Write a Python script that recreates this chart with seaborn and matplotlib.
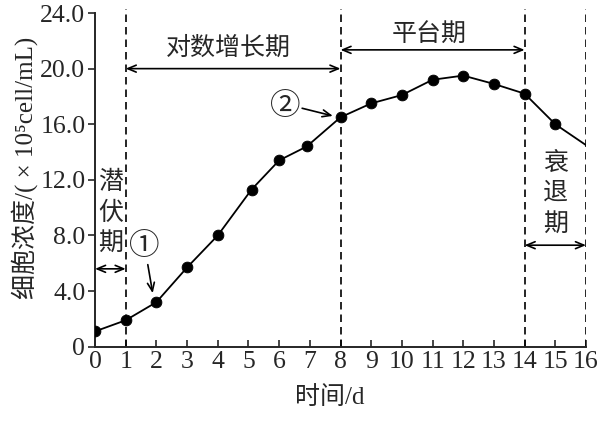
import numpy as np
import pandas as pd
import matplotlib
matplotlib.use("Agg")
import matplotlib.pyplot as plt
import seaborn as sns

# culture time (d) and cell density (x10^5 cell/mL)
days = [0, 1, 2, 3, 4, 5.1, 6, 6.9, 8, 9, 10, 11, 12, 13, 14, 15, 16]
density = [1.1, 1.9, 3.2, 5.7, 8.0, 11.3, 13.4, 14.4, 16.5, 17.5, 18.1, 19.2,
           19.5, 18.9, 18.2, 16.0, 14.5]
n_marked = 16  # last value is the line end only, no dot

phase_bounds = [1, 8, 14, 16]
xticks = list(range(17))
yticks = [0, 4, 8, 12, 16, 20, 24]
ytick_labels = ["0", "4.0", "8.0", "12.0", "16.0", "20.0", "24.0"]

df = pd.DataFrame({"day": days, "density": density})

sns.set_style("ticks")
plt.rcParams["font.family"] = ["Liberation Serif", "Noto Sans CJK SC", "DejaVu Serif"]

fig = plt.figure(figsize=(5.98, 4.32), dpi=100)
ax = fig.add_axes([0.1589, 0.1975, 0.821, 0.782])

sns.lineplot(data=df, x="day", y="density", color="black", lw=1.3, ax=ax)
sns.scatterplot(data=df.iloc[:n_marked], x="day", y="density", color="black",
                s=60, edgecolor="black", zorder=3, ax=ax)

top = 24.3
for xb in phase_bounds:
    ax.plot([xb, xb], [0, top], color="black", lw=1.2, ls=(0, (4.5, 3)))

ax.set_xlim(0, 16)
ax.set_ylim(0, top)
ax.spines["top"].set_visible(False)
ax.spines["right"].set_visible(False)
ax.spines["left"].set_bounds(0, 24)
ax.spines["left"].set_linewidth(1.4)
ax.spines["bottom"].set_linewidth(1.4)

ax.set_xticks(xticks)
ax.set_xticklabels([str(t) for t in xticks])
ax.set_yticks(yticks)
ax.set_yticklabels(ytick_labels)
ax.tick_params(axis="x", direction="in", length=5, width=1.2, labelsize=18.5, pad=3)
ax.tick_params(axis="y", direction="out", length=5, width=1.2, labelsize=18.5, pad=2)

ax.set_xlabel("时间/d", fontsize=18)
ax.xaxis.label.set_va("center")
ax.xaxis.set_label_coords(0.479, -0.149)
ax.set_ylabel("细胞浓度/( × 10⁵cell/mL)", fontsize=18)
ax.yaxis.label.set_va("center")
ax.yaxis.set_label_coords(-0.143, 0.53)

arrow2 = dict(arrowstyle="<->,head_length=0.6,head_width=0.25", color="black", lw=1.2,
              shrinkA=0, shrinkB=0)
arrow1 = dict(arrowstyle="->,head_length=0.6,head_width=0.25", color="black", lw=1.2,
              shrinkA=0, shrinkB=0)

# phase labels
ax.annotate("", xy=(0, 5.6), xytext=(1, 5.6), arrowprops=arrow2)
for i, ch in enumerate("潜伏期"):
    ax.text(0.5, 11.8 - i * 2.2, ch, ha="center", va="center", fontsize=18)

ax.annotate("", xy=(1, 20.0), xytext=(8, 20.0), arrowprops=arrow2)
ax.text(4.35, 21.5, "对数增长期", ha="center", va="center", fontsize=18)

ax.annotate("", xy=(8, 21.35), xytext=(14, 21.35), arrowprops=arrow2)
ax.text(10.9, 22.4, "平台期", ha="center", va="center", fontsize=18)

ax.annotate("", xy=(14, 7.3), xytext=(16, 7.3), arrowprops=arrow2)
for i, ch in enumerate("衰退期"):
    ax.text(15.0, 13.2 - i * 2.2, ch, ha="center", va="center", fontsize=18)

# markers 1 and 2
ax.text(1.6, 7.2, "①", ha="center", va="center", fontsize=22,
        family=["Noto Sans CJK SC", "DejaVu Sans"])
ax.annotate("", xy=(1.88, 3.85), xytext=(1.72, 5.9), arrowprops=arrow1)
ax.text(6.2, 17.25, "②", ha="center", va="center", fontsize=22,
        family=["Noto Sans CJK SC", "DejaVu Sans"])
ax.annotate("", xy=(7.75, 16.6), xytext=(6.75, 17.15), arrowprops=arrow1)

fig.savefig("out.png", dpi=100)
